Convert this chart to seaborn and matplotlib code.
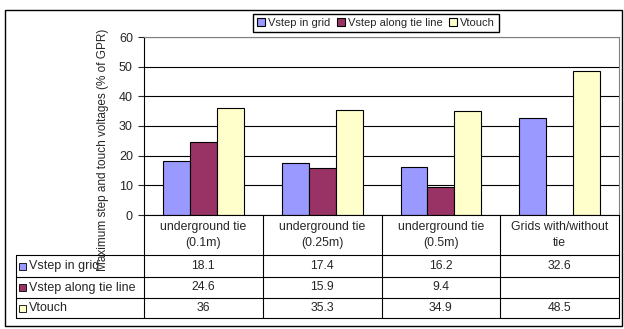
import numpy as np
import pandas as pd
import matplotlib
matplotlib.use("Agg")
import matplotlib.pyplot as plt
import seaborn as sns
from matplotlib.patches import Rectangle

# chart data
categories = ["underground tie\n(0.1m)", "underground tie\n(0.25m)",
              "underground tie\n(0.5m)", "Grids with/without\ntie"]
series = ["Vstep in grid", "Vstep along tie line", "Vtouch"]
vstep_grid = [18.1, 17.4, 16.2, 32.6]
vstep_tie = [24.6, 15.9, 9.4, np.nan]
vtouch = [36, 35.3, 34.9, 48.5]
colors = ["#9999FF", "#993366", "#FFFFCC"]
ylabel = "Maximum step and touch voltages (% of GPR)"

values = [vstep_grid, vstep_tie, vtouch]
df = pd.DataFrame({
    "category": categories * 3,
    "series": [s for s in series for _ in categories],
    "value": [v for vals in values for v in vals],
})

sns.set_style("white")
plt.rcParams["font.family"] = ["Liberation Sans", "DejaVu Sans"]
plt.rcParams["font.size"] = 8

W, H = 624, 329
fig = plt.figure(figsize=(W / 100, H / 100), dpi=100)

def fx(x):
    return x / W

def fy(y):
    return 1 - y / H

# plot area in pixel coords
L, R, T, B = 144, 619, 37, 215
ax = fig.add_axes([fx(L), fy(B), fx(R - L), (B - T) / H])
sns.barplot(data=df, x="category", y="value", hue="series", order=categories,
            hue_order=series, palette=colors, width=0.68, edgecolor="black",
            linewidth=0.8, ax=ax, legend=True, saturation=1)
ax.set_ylim(0, 60)
ax.set_xlim(-0.5, 3.5)
ax.set_yticks(range(0, 61, 10))
ax.set_xticks([])
ax.set_xlabel("")
ax.set_ylabel("")
ax.yaxis.grid(True, color="black", linewidth=0.8)
ax.set_axisbelow(True)
ax.tick_params(axis="y", left=True, length=4, width=0.8, pad=4, labelsize=9)
for s in ["top", "right"]:
    ax.spines[s].set_color("#808080")
    ax.spines[s].set_linewidth(0.8)
ax.spines["left"].set_color("black")
ax.spines["bottom"].set_color("black")

handles, labels = ax.get_legend_handles_labels()
ax.get_legend().remove()
fig.legend(handles, labels, loc="center", bbox_to_anchor=(fx(376), fy(23)),
           ncol=3, frameon=True, fancybox=False, edgecolor="black",
           fontsize=8, handlelength=0.7, handleheight=0.7, handletextpad=0.3,
           columnspacing=0.6, borderpad=0.35, framealpha=1)

fig.text(fx(103), fy(150), ylabel, rotation=90, ha="center", va="center",
         fontsize=8.5)

# data table below the plot, drawn in pixel coords
tab = fig.add_axes([0, 0, 1, 1], zorder=-1)
tab.set_xlim(0, W)
tab.set_ylim(H, 0)
tab.axis("off")
tab.add_patch(Rectangle((5, 10), 617, 316, fill=False, edgecolor="black",
                        linewidth=1))
cols = np.linspace(L, R, len(categories) + 1)
rows = [255, 277, 298, 318]
for x in cols:
    tab.plot([x, x], [B, rows[-1]], color="black", linewidth=0.8)
tab.plot([16, 16], [rows[0], rows[-1]], color="black", linewidth=0.8)
for y in rows:
    tab.plot([16, R], [y, y], color="black", linewidth=0.8)
for i, cat in enumerate(categories):
    cx = (cols[i] + cols[i + 1]) / 2
    tab.text(cx, (B + rows[0]) / 2, cat, ha="center", va="center",
             fontsize=8.8, linespacing=1.5)
for j, (name, vals) in enumerate(zip(series, values)):
    cy = (rows[j] + rows[j + 1]) / 2
    tab.add_patch(Rectangle((19, cy - 3.5), 7, 7, facecolor=colors[j],
                            edgecolor="black", linewidth=0.6))
    tab.text(29, cy, name, ha="left", va="center", fontsize=9)
    for i, v in enumerate(vals):
        if np.isnan(v):
            continue
        cx = (cols[i] + cols[i + 1]) / 2
        tab.text(cx, cy, f"{v:g}", ha="center", va="center", fontsize=8.8)

fig.savefig("out.png", dpi=100)
